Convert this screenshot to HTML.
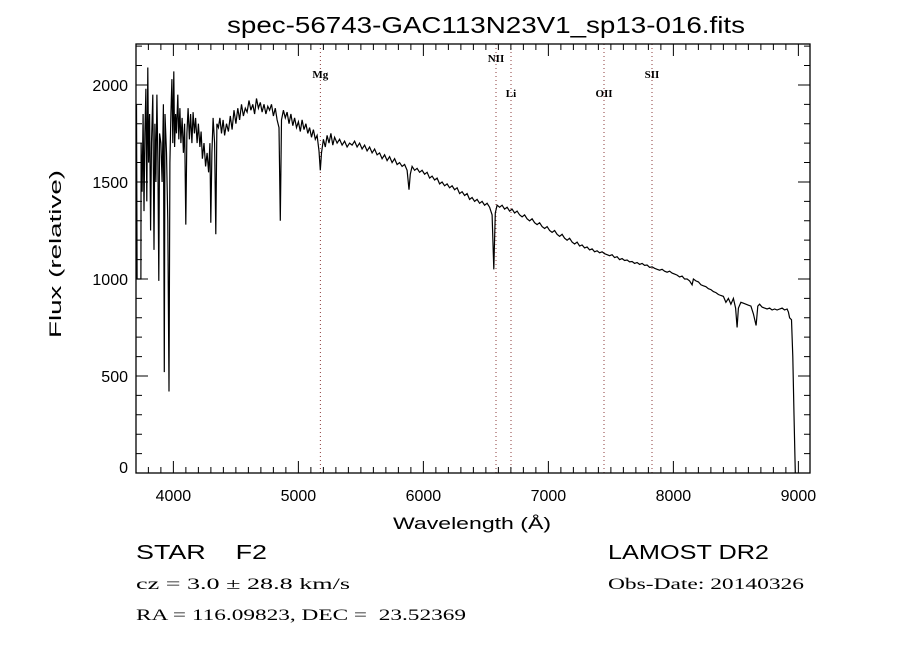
<!DOCTYPE html>
<html><head><meta charset="utf-8"><style>
body{margin:0;background:#fff}
svg{display:block}
text{font-family:"Liberation Sans",sans-serif;fill:#000;white-space:pre}
.ser{font-family:"Liberation Serif",serif}
</style></head><body>
<svg id="c" width="900" height="650" xmlns="http://www.w3.org/2000/svg" xml:space="preserve">
<rect width="900" height="650" fill="#fff"/>
<text x="227" y="33" font-size="23" textLength="518" lengthAdjust="spacingAndGlyphs">spec-56743-GAC113N23V1_sp13-016.fits</text>
<text x="393" y="529" font-size="17" textLength="158" lengthAdjust="spacingAndGlyphs">Wavelength (Å)</text>
<text transform="translate(61,338) rotate(-90)" font-size="17" textLength="168" lengthAdjust="spacingAndGlyphs">Flux (relative)</text>
<text x="136" y="559" font-size="20" textLength="131" lengthAdjust="spacingAndGlyphs">STAR    F2</text>
<text x="608" y="559" font-size="20" textLength="161" lengthAdjust="spacingAndGlyphs">LAMOST DR2</text>
<text class="ser" x="136" y="589" font-size="16" textLength="214" lengthAdjust="spacingAndGlyphs">cz = 3.0 ± 28.8 km/s</text>
<text class="ser" x="608" y="589" font-size="16" textLength="196" lengthAdjust="spacingAndGlyphs">Obs-Date: 20140326</text>
<text class="ser" x="136" y="620" font-size="16" textLength="330" lengthAdjust="spacingAndGlyphs">RA = 116.09823, DEC =  23.52369</text>
<g id="g"></g>
</svg>
<script>
const wave=[3705,3710,3740,3742,3750,3758,3765,3772,3780,3787,3795,3802,3810,3818,3825,3835,3845,3852,3860,3868,3876,3883,3890,3900,3910,3920,3927,3933,3945,3955,3965,3972,3980,3988,3995,4003,4010,4018,4025,4035,4043,4052,4060,4070,4080,4090,4099,4108,4118,4128,4138,4148,4158,4168,4178,4190,4200,4212,4222,4232,4245,4258,4270,4282,4292,4299,4308,4318,4330,4339,4348,4360,4372,4385,4398,4410,4425,4440,4455,4470,4485,4500,4515,4530,4545,4560,4575,4590,4605,4620,4635,4650,4665,4680,4695,4710,4725,4740,4755,4770,4785,4800,4815,4830,4845,4855,4865,4880,4895,4910,4925,4940,4955,4970,4985,5000,5015,5030,5045,5060,5075,5090,5105,5120,5135,5150,5165,5175,5185,5200,5215,5230,5245,5260,5275,5290,5310,5330,5350,5370,5390,5410,5430,5450,5470,5490,5510,5530,5550,5570,5590,5610,5630,5650,5670,5690,5710,5730,5750,5770,5790,5810,5830,5850,5870,5885,5895,5910,5930,5950,5970,5990,6010,6030,6050,6070,6090,6110,6130,6150,6170,6190,6210,6230,6250,6270,6290,6310,6330,6350,6370,6390,6410,6430,6450,6470,6490,6510,6530,6550,6563,6575,6590,6610,6630,6650,6670,6690,6710,6730,6750,6770,6790,6810,6830,6850,6870,6890,6910,6930,6950,6970,6990,7010,7030,7050,7070,7090,7110,7130,7150,7170,7190,7210,7230,7250,7270,7290,7310,7330,7350,7370,7390,7410,7430,7450,7470,7490,7510,7530,7550,7570,7590,7610,7630,7650,7670,7690,7710,7730,7750,7770,7790,7810,7830,7850,7870,7890,7910,7930,7950,7970,7990,8010,8030,8050,8070,8090,8110,8130,8150,8160,8180,8200,8220,8240,8260,8280,8300,8320,8340,8360,8380,8400,8420,8440,8460,8480,8498,8510,8520,8540,8560,8580,8600,8620,8640,8662,8675,8690,8710,8730,8750,8770,8790,8810,8830,8850,8870,8890,8910,8920,8930,8945,8955,8965,8975];
const flux=[1900,1000,1000,1700,1450,1850,1350,1750,1980,1400,2090,1600,1850,1250,1700,1950,1150,1800,1500,1950,1600,990,1750,1700,1500,1900,520,1850,1650,1300,420,1600,1850,2030,1700,2070,1680,1850,1750,1950,1720,1880,1700,1830,1650,1800,1280,1750,1880,1720,1850,1700,1860,1750,1830,1700,1800,1680,1760,1620,1700,1580,1650,1550,1700,1290,1650,1830,1700,1230,1800,1780,1830,1750,1820,1740,1800,1760,1840,1770,1870,1800,1880,1820,1900,1840,1880,1860,1920,1870,1900,1850,1930,1880,1910,1860,1900,1850,1890,1870,1900,1840,1880,1820,1780,1300,1820,1870,1830,1860,1800,1850,1790,1830,1780,1810,1760,1820,1770,1800,1750,1780,1730,1770,1720,1740,1660,1560,1650,1720,1680,1740,1700,1750,1690,1730,1700,1720,1690,1710,1680,1700,1690,1710,1680,1700,1670,1690,1660,1680,1650,1670,1640,1650,1620,1640,1610,1630,1600,1620,1590,1600,1580,1590,1560,1460,1540,1580,1560,1570,1550,1560,1540,1550,1520,1530,1510,1520,1490,1500,1480,1490,1470,1480,1460,1470,1440,1450,1430,1440,1410,1420,1400,1410,1390,1400,1380,1390,1370,1330,1050,1340,1380,1370,1380,1360,1370,1350,1360,1340,1350,1330,1320,1330,1310,1300,1310,1290,1280,1290,1270,1260,1270,1250,1240,1250,1230,1220,1230,1210,1200,1210,1190,1180,1190,1170,1175,1160,1165,1150,1155,1140,1145,1135,1140,1130,1125,1120,1125,1110,1115,1100,1105,1095,1098,1088,1090,1080,1085,1075,1080,1070,1072,1060,1062,1055,1050,1045,1050,1040,1035,1040,1030,1025,1020,1010,1015,1000,1000,990,970,1000,990,985,970,965,960,950,945,935,930,920,915,910,880,900,870,900,850,750,850,880,875,870,865,860,820,760,860,870,855,850,845,850,840,845,840,845,850,840,845,830,800,790,600,300,0];
const lineNames=["Mg","NII","Li","OII","SII"];
const lineWaves=[5176,6581,6701,7445,7829];
const lineLabelY=[78,62,97,97,78];
const xTicks=[4000,5000,6000,7000,8000,9000];
const yTicks=[0,500,1000,1500,2000];
const L=136,R=810,T=44,B=473,X0=3701,X1=9093,Y0=0,Y1=2211;
const sx=w=>L+(w-X0)/(X1-X0)*(R-L), sy=f=>B-(f-Y0)/(Y1-Y0)*(B-T);
const NS="http://www.w3.org/2000/svg",g=document.getElementById('g');
function mk(t,a){const e=document.createElementNS(NS,t);for(const k in a)e.setAttribute(k,a[k]);g.appendChild(e);return e;}
lineNames.forEach((n,i)=>{
 const x=sx(lineWaves[i]);
 const l=mk('line',{x1:x,x2:x,y1:T,y2:B,stroke:'#8b3a3a','stroke-width':1,'stroke-dasharray':'1,3'});
 
 
 const t=mk('text',{x:x,y:lineLabelY[i],'font-size':11,'font-weight':'bold','text-anchor':'middle','class':'ser'});
 t.textContent=n;
 
 
});
let d='';
wave.forEach((w,i)=>{d+=(i?'L':'M')+sx(w).toFixed(1)+','+sy(flux[i]).toFixed(1);});
const p=mk('path',{d:d,fill:'none',stroke:'#000','stroke-width':1.2,'stroke-linejoin':'miter'});


const fr=mk('rect',{x:L,y:T,width:R-L,height:B-T,fill:'none',stroke:'#000','stroke-width':1.3});


let td='';
for(let w=3800;w<=9000;w+=100){const x=sx(w),len=w%1000===0?12:6;td+=`M${x},${B}v${-len}M${x},${T}v${len}`;}
for(let f=100;f<=2200;f+=100){const y=sy(f),len=f%500===0?12:6;td+=`M${L},${y}h${len}M${R},${y}h${-len}`;}
const tk=mk('path',{d:td,stroke:'#000','stroke-width':1,fill:'none'});


xTicks.forEach(v=>{const t=mk('text',{x:sx(v),y:B+28,'font-size':16,'text-anchor':'middle'});t.textContent=v;
 
 });
yTicks.forEach(v=>{const t=mk('text',{x:L-8,y:sy(v)+(v===0?0:6),'font-size':16,'text-anchor':'end'});t.textContent=v;
 
 });
</script>
</body></html>
